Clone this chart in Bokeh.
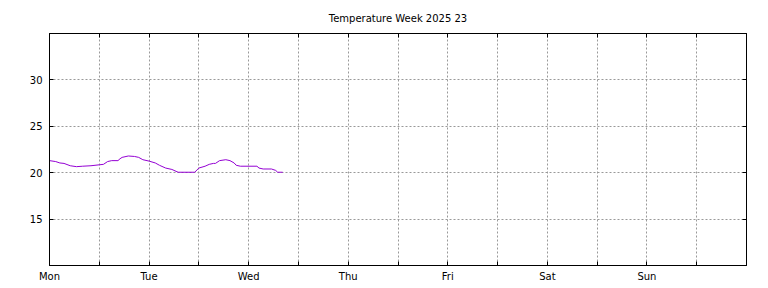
from bokeh.plotting import figure
from bokeh.models import FixedTicker, LinearAxis, Range1d
from bokeh.embed import file_html
from bokeh.resources import INLINE

# hours since Monday 00:00
hours = [0, 1.5, 2.5, 3.5, 5, 6.5, 8, 10, 12, 13, 14, 15, 16.5, 17, 17.5, 19, 20.5,
         21.5, 22.5, 24, 25.5, 26.5, 28, 29.5, 30.5, 31, 35, 36, 37.5, 38.5, 39.5,
         40, 41, 42.5, 43.5, 44.5, 45, 46, 50, 50.5, 51.5, 53.5, 54.5, 55, 56.2]
temps = [21.3, 21.2, 21.05, 21.0, 20.75, 20.65, 20.7, 20.75, 20.85, 20.9, 21.2, 21.3,
         21.3, 21.5, 21.65, 21.8, 21.75, 21.65, 21.4, 21.25, 21.05, 20.8, 20.5, 20.35,
         20.15, 20.05, 20.05, 20.5, 20.7, 20.9, 21.0, 21.0, 21.3, 21.4, 21.3, 21.05,
         20.8, 20.7, 20.7, 20.5, 20.4, 20.4, 20.25, 20.05, 20.05]
day_labels = ["Mon", "Tue", "Wed", "Thu", "Fri", "Sat", "Sun"]
y_ticks = [15, 20, 25, 30]
title = "Temperature Week 2025 23"

FONT = "DejaVu Sans"

p = figure(width=768, height=288, output_backend="svg", toolbar_location=None,
           x_range=Range1d(0, 168), y_range=Range1d(10, 35),
           x_axis_location=None, y_axis_location=None,
           min_border_left=49, min_border_right=22, min_border_top=33, min_border_bottom=23)
p.title.text = title
p.title.align = "center"
p.title.text_font = FONT
p.title.text_font_size = "10px"
p.title.text_font_style = "normal"
p.title.text_color = "black"
p.title.standoff = 19

x_ticks = list(range(0, 169, 12))
overrides = {}
for t in x_ticks:
    if t % 24 == 0 and t // 24 < len(day_labels):
        overrides[t] = day_labels[t // 24]
    else:
        overrides[t] = ""

def style_axis(ax, show_labels):
    ax.major_tick_in = 4
    ax.major_tick_out = 0
    ax.minor_tick_in = 0
    ax.minor_tick_out = 0
    ax.axis_line_color = "black"
    ax.axis_line_width = 1
    ax.major_tick_line_color = "black"
    ax.major_label_text_font = FONT
    ax.major_label_text_font_size = "10px" if show_labels else "0px"
    ax.major_label_text_color = "black"
    ax.major_label_standoff = 6

xb = LinearAxis(ticker=FixedTicker(ticks=x_ticks), major_label_overrides=overrides)
style_axis(xb, True)
xb.major_label_standoff = 5
p.add_layout(xb, "below")
xt = LinearAxis(ticker=FixedTicker(ticks=x_ticks), major_label_overrides={t: "" for t in x_ticks})
style_axis(xt, False)
xt.major_label_standoff = 0
p.add_layout(xt, "above")
yl = LinearAxis(ticker=FixedTicker(ticks=y_ticks))
style_axis(yl, True)
yl.major_label_standoff = 7
p.add_layout(yl, "left")
yr = LinearAxis(ticker=FixedTicker(ticks=y_ticks), major_label_overrides={t: "" for t in y_ticks})
style_axis(yr, False)
yr.major_label_standoff = 0
p.add_layout(yr, "right")

p.xgrid.ticker = FixedTicker(ticks=x_ticks)
p.ygrid.ticker = FixedTicker(ticks=y_ticks)
for g in (p.xgrid, p.ygrid):
    g.grid_line_color = "#999999"
    g.grid_line_dash = "2 2"
    g.grid_line_width = 1

p.outline_line_color = "black"
p.outline_line_width = 1
p.background_fill_color = "white"
p.border_fill_color = "white"

p.line(hours, temps, line_color="#9400D3", line_width=1)

open("out.html", "w").write(file_html(p, INLINE))
